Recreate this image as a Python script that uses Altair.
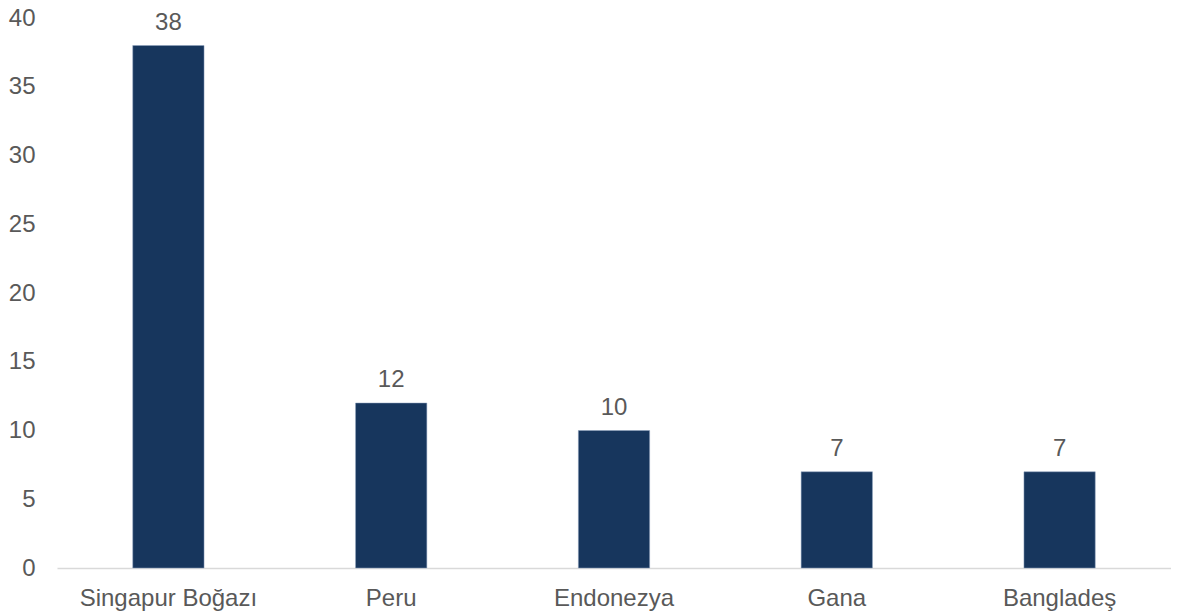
import altair as alt
import pandas as pd

categories = ["Singapur Boğazı", "Peru", "Endonezya", "Gana", "Bangladeş"]
values = [38, 12, 10, 7, 7]

df = pd.DataFrame({"cat": categories, "val": values})

FONT = "Liberation Sans"
TXT = "#595959"

base = alt.Chart(df).encode(
    x=alt.X("cat:N", sort=categories, title=None,
            scale=alt.Scale(paddingInner=0.68, paddingOuter=0.34),
            axis=alt.Axis(labelAngle=0, labelFont=FONT, labelFontSize=24,
                          labelColor=TXT, ticks=False, domainColor="#d9d9d9",
                          domainWidth=1.5, labelPadding=18)),
    y=alt.Y("val:Q", title=None,
            scale=alt.Scale(domain=[0, 40]),
            axis=alt.Axis(values=[0, 5, 10, 15, 20, 25, 30, 35, 40], grid=False,
                          domain=False, ticks=False, labelFont=FONT, labelFontSize=24,
                          labelColor=TXT, labelPadding=22)),
)

bars = base.mark_bar(color="#17365d", stroke="#8ea2bf", strokeWidth=0.5)
labels = base.mark_text(dy=-23, font=FONT, fontSize=24, color=TXT).encode(text="val:Q")

chart = (bars + labels).properties(
    width=1114, height=550,
    autosize=alt.AutoSizeParams(type="none"),
    padding={"left": 49, "top": 10, "right": 0, "bottom": 52},
).configure_view(stroke=None)

chart.save("out.html", embed_options={"renderer": "svg", "actions": False})
